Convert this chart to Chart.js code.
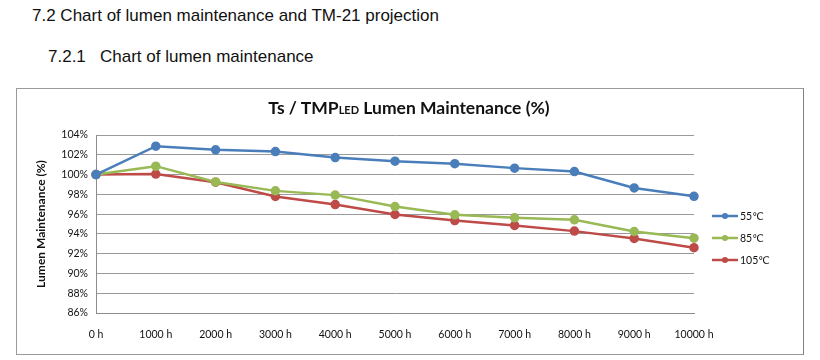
<!DOCTYPE html>
<html>
<head>
<meta charset="utf-8">
<script src="https://cdn.jsdelivr.net/npm/chart.js@4"></script>
<style>
  body { margin: 0; background: #fff; width: 820px; height: 360px; position: relative; overflow: hidden; }
  .h1 { position: absolute; left: 32px; top: 6px; font: 17px "Liberation Sans", Arial, sans-serif; color: #111; }
  .h2 { position: absolute; left: 48px; top: 47px; font: 17px "Liberation Sans", Arial, sans-serif; color: #111; white-space: pre; }
  .frame { position: absolute; left: 16px; top: 88px; width: 786px; height: 265px; border: 1px solid #9a9a9a; border-right-color: #808080; }
  .title { position: absolute; left: 0; width: 818px; top: 97px; text-align: center; font: bold 17.5px Lato, "Open Sans", sans-serif; color: #111; }
  .title small { font-size: 11px; }
  canvas { position: absolute; left: 0; top: 0; }
</style>
</head>
<body>
<div class="h1">7.2 Chart of lumen maintenance and TM-21 projection</div>
<div class="h2">7.2.1   Chart of lumen maintenance</div>
<div class="frame"><canvas id="lumen-chart" width="786" height="265"></canvas></div>
<div class="title">Ts / TMP<small>LED</small> Lumen Maintenance (%)</div>
<script>
const hours = ["0 h", "1000 h", "2000 h", "3000 h", "4000 h", "5000 h", "6000 h", "7000 h", "8000 h", "9000 h", "10000 h"]
const t55 = [100, 102.87, 102.5, 102.32, 101.72, 101.35, 101.1, 100.65, 100.3, 98.65, 97.8]
const t85 = [100, 100.85, 99.25, 98.35, 97.92, 96.77, 95.93, 95.63, 95.42, 94.24, 93.57]
const t105 = [100, 100.05, 99.23, 97.78, 96.97, 95.96, 95.35, 94.85, 94.28, 93.54, 92.6]
const seriesNames = ['55℃', '85℃', '105℃']
const yTicks = [86, 88, 90, 92, 94, 96, 98, 100, 102, 104]

const colors = ['#4a7ebb', '#98b954', '#be4b48']
const tickFont = { size: 10.5, family: 'Lato, "Open Sans", sans-serif' }

const mkSet = (label, data, color) => ({
    label: label,
    data: data,
    borderColor: color,
    backgroundColor: color,
    borderWidth: 2.5,
    pointRadius: 3.5,
    pointHoverRadius: 4,
    tension: 0,
    fill: false
})

// legend drawn like excel: short line with a dot, text beside it
const sideLegend = {
    id: 'sideLegend',
    afterDraw(chart) {
        const ctx = chart.ctx
        ctx.save()
        ctx.font = '10.5px Lato, "DejaVu Sans", sans-serif'
        ctx.textBaseline = 'middle'
        chart.data.datasets.forEach((ds, i) => {
            const y = 127 + i * 22
            ctx.strokeStyle = ds.borderColor
            ctx.lineWidth = 2.5
            ctx.beginPath()
            ctx.moveTo(695, y)
            ctx.lineTo(721, y)
            ctx.stroke()
            ctx.fillStyle = ds.borderColor
            ctx.beginPath()
            ctx.arc(708, y, 3, 0, Math.PI * 2)
            ctx.fill()
            ctx.fillStyle = '#111'
            ctx.fillText(ds.label, 723, y + 1)
        })
        ctx.restore()
    }
}

new Chart(document.querySelector('#lumen-chart'), {
    type: 'line',
    data: {
        labels: hours,
        datasets: [
            mkSet(seriesNames[0], t55, colors[0]),
            mkSet(seriesNames[1], t85, colors[1]),
            mkSet(seriesNames[2], t105, colors[2])
        ]
    },
    options: {
        responsive: false,
        animation: false,
        layout: { padding: { top: 46, right: 109, left: 0, bottom: 0 } },
        plugins: {
            legend: { display: false },
            title: { display: false },
            tooltip: { enabled: false }
        },
        scales: {
            x: {
                offset: false,
                grid: { display: false, drawTicks: false },
                border: { display: true, color: '#8c8c8c', width: 1 },
                ticks: { color: '#111', font: tickFont, padding: 15, maxRotation: 0, autoSkip: false },
                afterFit(scale) { scale.height = 41 }
            },
            y: {
                min: 86,
                max: 104,
                afterBuildTicks(scale) { scale.ticks = yTicks.map(v => ({ value: v })) },
                grid: { color: '#9a9a9a', lineWidth: 1, drawTicks: false },
                border: { display: true, color: '#8c8c8c', width: 1 },
                ticks: {
                    color: '#111',
                    padding: 8,
                    font: tickFont,
                    callback: v => v + '%'
                },
                title: {
                    display: true,
                    text: 'Lumen Maintenance (%)',
                    color: '#111',
                    font: { size: 12, weight: 'bold', family: 'Lato, "Open Sans", sans-serif' },
                    padding: { top: 17, bottom: 0 }
                },
                afterFit(scale) { scale.width = 79 }
            }
        }
    },
    plugins: [sideLegend]
})
</script>
</body>
</html>
